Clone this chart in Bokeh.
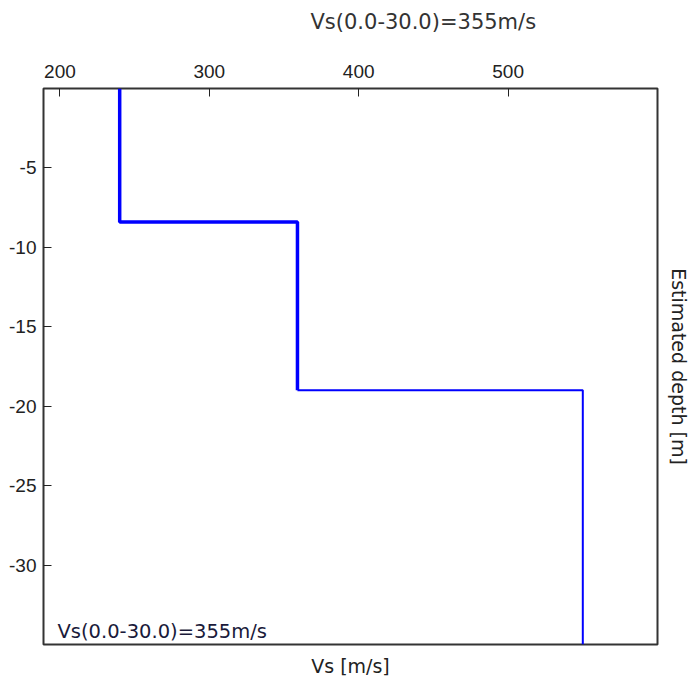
from bokeh.plotting import figure
from bokeh.models import LinearAxis, FixedTicker, Label, Title, Range1d
from bokeh.embed import file_html
from bokeh.resources import INLINE

# ---- data ----
vs_layers = [240, 359, 550]          # shear-wave velocity per layer [m/s]
depth_top = [0.0, 8.4, 19.0]         # layer top depth [m]
depth_bottom = [8.4, 19.0, 35.0]     # layer bottom depth [m]
x_ticks = [200, 300, 400, 500]
y_ticks = [-5, -10, -15, -20, -25, -30]
vs30_text = "Vs(0.0-30.0)=355m/s"
x_label = "Vs [m/s]"
y_label = "Estimated depth [m]"

# build step profile from layers
def step_path(idx_from, idx_to, start_at_prev=False):
    xs, ys = [], []
    for i in range(idx_from, idx_to):
        if start_at_prev and i == idx_from and i > 0:
            xs.append(vs_layers[i - 1]); ys.append(-depth_top[i])
        xs.append(vs_layers[i]); ys.append(-depth_top[i])
        xs.append(vs_layers[i]); ys.append(-depth_bottom[i])
    return xs, ys

xs1, ys1 = step_path(0, 2)
xs2, ys2 = step_path(2, 3, start_at_prev=True)

x0, x1 = 189, 600
y0, y1 = -35, 0

p = figure(width=692, height=688,
           x_range=Range1d(x0, x1), y_range=Range1d(y0, y1),
           output_backend="svg", toolbar_location=None,
           x_axis_location=None, y_axis_location=None,
           min_border_left=43, min_border_right=35,
           min_border_top=88, min_border_bottom=44)
p.grid.visible = False
p.outline_line_color = "#333333"
p.outline_line_width = 2
p.background_fill_color = "white"
p.border_fill_color = "white"

tick_font = "Liberation Sans"
title_font = "DejaVu Sans"

top = LinearAxis(ticker=FixedTicker(ticks=x_ticks))
top.axis_line_color = None
top.major_tick_in = 8
top.major_tick_out = 0
top.major_tick_line_color = "#222222"
top.minor_tick_line_color = None
top.major_label_standoff = 11
top.major_label_text_font = tick_font
top.major_label_text_font_size = "19px"
top.major_label_text_color = "#222222"
p.add_layout(top, "above")

# empty spacer panel between the top axis and the title
spacer = LinearAxis(ticker=FixedTicker(ticks=[x_ticks[2]]))
spacer.axis_line_color = None
spacer.major_tick_out = 26
spacer.major_tick_in = 0
spacer.minor_tick_out = 0
spacer.minor_tick_in = 0
spacer.major_tick_line_color = None
spacer.minor_tick_line_color = None
spacer.major_label_standoff = 0
spacer.major_label_overrides = {x_ticks[2]: ""}
p.add_layout(spacer, "above")

left = LinearAxis(ticker=FixedTicker(ticks=y_ticks))
left.axis_line_color = None
left.major_tick_in = 8
left.major_tick_out = 0
left.major_tick_line_color = "#222222"
left.minor_tick_line_color = None
left.major_label_standoff = 7
left.major_label_text_font = tick_font
left.major_label_text_font_size = "19px"
left.major_label_text_color = "#222222"
left.major_label_overrides = {v: str(v) for v in y_ticks}
p.add_layout(left, "left")

bottom = LinearAxis(ticker=FixedTicker(ticks=[]), axis_label=x_label)
bottom.axis_line_color = None
bottom.major_tick_out = 0
bottom.major_tick_in = 0
bottom.minor_tick_line_color = None
bottom.major_label_standoff = 0
bottom.axis_label_standoff = 10
bottom.axis_label_text_font = title_font
bottom.axis_label_text_font_style = "normal"
bottom.axis_label_text_font_size = "19px"
bottom.axis_label_text_color = "#222222"
p.add_layout(bottom, "below")

right = LinearAxis(ticker=FixedTicker(ticks=[]), axis_label=y_label)
right.axis_line_color = None
right.major_tick_out = 0
right.major_tick_in = 0
right.minor_tick_line_color = None
right.major_label_standoff = 0
right.axis_label_standoff = 10
right.axis_label_text_font = title_font
right.axis_label_text_font_style = "normal"
right.axis_label_text_font_size = "19px"
right.axis_label_text_color = "#222222"
p.add_layout(right, "right")

t = Title(text=vs30_text, align="left", offset=267, standoff=4,
          text_font=title_font, text_font_size="21px",
          text_font_style="normal", text_color="#333333")
p.add_layout(t, "above")

p.line(xs1, ys1, line_color="#0000ff", line_width=3.5)
p.line(xs2, ys2, line_color="#0000ff", line_width=2)

lab = Label(x=x0, y=y0, x_offset=14, y_offset=2, text=vs30_text,
            text_baseline="bottom", text_font=title_font,
            text_font_size="19.5px", text_color="#1a1a3a")
p.add_layout(lab)

open("out.html", "w").write(file_html(p, INLINE))
